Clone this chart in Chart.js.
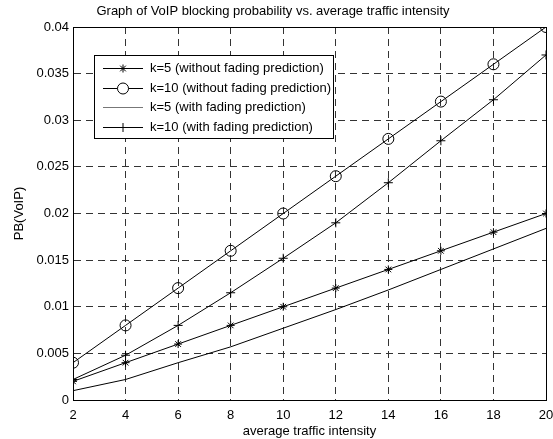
<!DOCTYPE html>
<html lang="en">
<head>
  <meta charset="UTF-8">
  <title>VoIP blocking probability</title>
  <script src="https://cdn.jsdelivr.net/npm/chart.js"></script>
  <style>
    html, body { margin: 0; padding: 0; background: #fff; }
    #wrap { width: 553px; height: 439px; }
  </style>
</head>
<body>
  <div id="wrap"><canvas id="pbChart"></canvas></div>

  <script>
    // data
    const traffic = [2, 4, 6, 8, 10, 12, 14, 16, 18, 20];
    const k5NoPred  = [0.002, 0.004, 0.006, 0.008, 0.010, 0.012, 0.014, 0.016, 0.018, 0.020];
    const k10NoPred = [0.004, 0.008, 0.012, 0.016, 0.020, 0.024, 0.028, 0.032, 0.036, 0.040];
    const k5Pred    = [0.001, 0.0022, 0.004, 0.0057, 0.0077, 0.0097, 0.0118, 0.014, 0.0162, 0.0184];
    const k10Pred   = [0.0022, 0.0048, 0.008, 0.0115, 0.0152, 0.019, 0.0233, 0.0278, 0.0322, 0.037];
    const seriesNames = [
      'k=5 (without fading prediction)',
      'k=10 (without fading prediction)',
      'k=5 (with fading prediction)',
      'k=10 (with fading prediction)'
    ];

    const FONT = "'Liberation Sans', Arial, sans-serif";
    const pts = arr => arr.map((v, i) => ({ x: traffic[i], y: v }));

    function mkSet(label, data, style, radius) {
      return {
        label: label,
        data: pts(data),
        borderColor: '#000',
        backgroundColor: 'rgba(0,0,0,0)',
        borderWidth: 1,
        pointStyle: style,
        pointRadius: radius,
        pointBorderColor: '#000',
        pointBackgroundColor: 'rgba(0,0,0,0)',
        pointBorderWidth: 1,
        tension: 0
      };
    }

    // legend box inside the axes, like matlab
    const boxLegend = {
      id: 'boxLegend',
      afterDraw(chart) {
        const ctx = chart.ctx;
        const x0 = 94, y0 = 55, w = 239, h = 83;
        ctx.save();
        ctx.fillStyle = '#fff';
        ctx.fillRect(x0, y0, w, h);
        ctx.strokeStyle = '#000';
        ctx.lineWidth = 1;
        ctx.setLineDash([]);
        ctx.strokeRect(x0 + 0.5, y0 + 0.5, w, h);
        ctx.font = '13px ' + FONT;
        ctx.textBaseline = 'middle';
        chart.data.datasets.forEach((ds, i) => {
          const y = Math.round(68 + i * 19.5) + 0.5;
          ctx.strokeStyle = i === 2 ? '#777' : '#000';
          ctx.beginPath();
          ctx.moveTo(103, y);
          ctx.lineTo(143, y);
          ctx.stroke();
          if (ds.pointRadius > 0) {
            ctx.fillStyle = '#fff';
            ctx.strokeStyle = '#000';
            Chart.helpers.drawPoint(ctx, {
              pointStyle: ds.pointStyle, radius: ds.pointRadius, borderWidth: 1
            }, 123, y);
          }
          ctx.fillStyle = '#000';
          ctx.fillText(ds.label, 150, y);
        });
        ctx.restore();
      }
    };

    const gridOpts = { color: '#333', drawTicks: false, lineWidth: 1 };
    const tickFont = { family: FONT, size: 13 };

    const ctx = document.getElementById('pbChart').getContext('2d');
    new Chart(ctx, {
      type: 'line',
      data: {
        datasets: [
          mkSet(seriesNames[0], k5NoPred, 'star', 4),
          mkSet(seriesNames[1], k10NoPred, 'circle', 5.5),
          mkSet(seriesNames[2], k5Pred, 'circle', 0),
          mkSet(seriesNames[3], k10Pred, 'cross', 4.5)
        ]
      },
      options: {
        responsive: true,
        maintainAspectRatio: false,
        animation: false,
        layout: { padding: { left: 0, right: 7, top: 0, bottom: 0 } },
        plugins: {
          legend: { display: false },
          tooltip: { enabled: false },
          title: {
            display: true,
            text: 'Graph of VoIP blocking probability vs. average traffic intensity',
            color: '#000',
            font: { family: FONT, size: 13, weight: 'normal', lineHeight: 1.2 },
            padding: { top: 4, bottom: 7.4 }
          }
        },
        scales: {
          x: {
            type: 'linear',
            min: 2, max: 20,
            afterFit(s) { s.height = 39; s.paddingRight = 0; s.paddingLeft = 0; },
            border: { display: true, color: '#000', width: 1, dash: [7, 5] },
            grid: gridOpts,
            ticks: { stepSize: 2, color: '#000', padding: 8, font: tickFont },
            title: {
              display: true, text: 'average traffic intensity', color: '#000',
              font: tickFont, padding: { top: 0, bottom: 0 }
            }
          },
          y: {
            min: 0, max: 0.04,
            afterFit(s) { s.width = 73; },
            border: { display: true, color: '#000', width: 1, dash: [7, 5] },
            grid: gridOpts,
            ticks: {
              stepSize: 0.005, color: '#000', padding: 4, font: tickFont,
              callback: v => String(Number(v.toFixed(3)))
            },
            title: {
              display: true, text: 'PB(VoIP)', color: '#000',
              font: tickFont, padding: { top: 12, bottom: 0 }
            }
          }
        }
      },
      plugins: [boxLegend, {
        id: 'frame',
        beforeDatasetsDraw(chart) {
          // solid box around the axes area
          const a = chart.chartArea, c = chart.ctx;
          c.save();
          c.strokeStyle = '#000';
          c.lineWidth = 1;
          c.setLineDash([]);
          c.strokeRect(Math.round(a.left) + 0.5, Math.round(a.top) + 0.5,
            Math.round(a.right - a.left), Math.round(a.bottom - a.top));
          c.restore();
        }
      }]
    });
  </script>
</body>
</html>
